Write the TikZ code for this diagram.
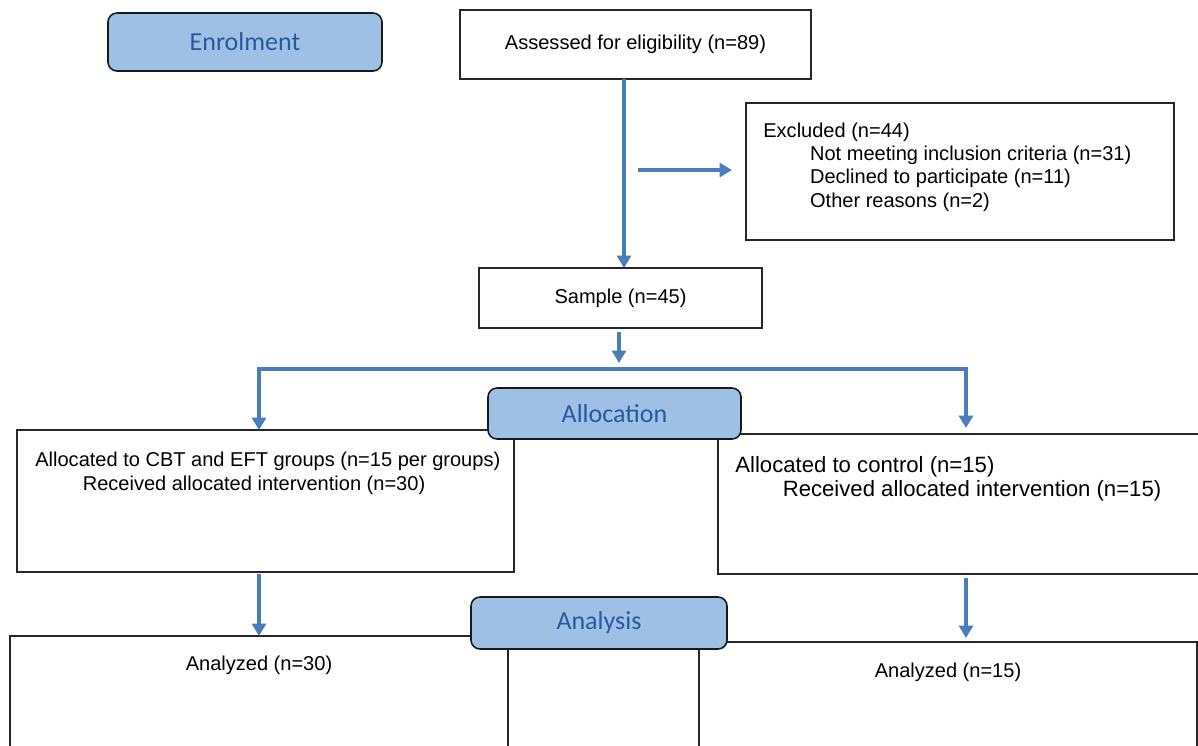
\documentclass[tikz,border=0pt]{standalone}
\usepackage{fontspec}
\setmainfont{Liberation Sans}
\newfontfamily\tabfont{Carlito}
\usetikzlibrary{arrows.meta,positioning,calc}
\definecolor{flowblue}{RGB}{74,126,187}
\definecolor{tabfill}{RGB}{157,192,228}
\definecolor{tabtext}{RGB}{44,88,158}

\begin{document}
\begin{tikzpicture}[
  x=0.2mm,y=-0.2mm,
  font=\fontsize{11.4}{13.1}\selectfont,
  box/.style={draw=black!85,line width=0.8pt,inner sep=0pt,outer sep=0pt},
  stage/.style={draw=black!90,line width=0.9pt,rounded corners=1.8mm,
    fill=tabfill,text=tabtext,inner sep=0pt,
    font=\tabfont\fontsize{14.8}{16}\selectfont},
  flow/.style={-{Triangle[length=2.5mm,width=2.8mm]},
    draw=flowblue,line width=2.2pt},
  bar/.style={draw=flowblue,line width=2.2pt,line cap=rect},
  entry/.style={inner sep=0pt,anchor=base west,align=left}]
\useasboundingbox (0,0) rectangle (1198,745);
\clip (0,0) rectangle (1198,745);

% boxes
\node[box,minimum width=70.2mm,minimum height=13.8mm] (assess) at (635.5,44.5) {Assessed for eligibility (n=89)};
\node[box,minimum width=85.6mm,minimum height=27.4mm] (excl) at (960,171.5) {};
\node[box,minimum width=56.6mm,minimum height=12mm] (sample) at (620.5,298) {Sample (n=45)};
\node[box,minimum width=99.4mm,minimum height=28.4mm] (leftalloc) at (265.5,501) {};
\node[box,minimum width=99.4mm,minimum height=28mm] (rightalloc) at (966.5,504) {};
\node[box,minimum width=99.6mm,minimum height=32.8mm] (leftana) at (259,718) {};
\node[box,minimum width=99.6mm,minimum height=31.6mm] (rightana) at (948,721) {};

% texts in the boxes (base = last line)
\node[entry] (excltext) at (763,207) {Excluded (n=44)\\
  \hspace*{26.6pt}Not meeting inclusion criteria (n=31)\\
  \hspace*{26.6pt}Declined to participate (n=11)\\
  \hspace*{26.6pt}Other reasons (n=2)};
\node[entry] (leftalloctext) at (35,490) {Allocated to CBT and EFT groups (n=15 per groups)\\
  \hspace*{27pt}Received allocated intervention (n=30)};
\node[entry,font=\fontsize{12.6}{13.6}\selectfont] (rightalloctext) at (735,496) {Allocated to control (n=15)\\
  \hspace*{27pt}Received allocated intervention (n=15)};
\node[entry,anchor=base] (leftanatext) at (259,670) {Analyzed (n=30)};
\node[entry,anchor=base] (rightanatext) at (948,677) {Analyzed (n=15)};

% stage tabs
\node[stage,minimum width=54.8mm,minimum height=11.6mm] (enrol) at (245,42) {Enrolment};
\node[stage,minimum width=50.6mm,minimum height=10.2mm] (alloc) at (614.5,413.5) {Allocation};
\node[stage,minimum width=51.2mm,minimum height=10.4mm] (analysis) at (599,623) {Analysis};

% arrows
\coordinate (exclfrom) at (638,170);
\coordinate (splitL) at (259,369);
\coordinate (splitM) at (619,369);
\coordinate (splitR) at (966,369);
\draw[flow] ([xshift=-2.3mm]assess.south) -- ([xshift=-2.3mm]assess.south |- sample.north);
\draw[flow,shorten >=2.8mm] (exclfrom) -- (exclfrom -| excl.west);
\draw[flow,shorten <=0.8mm,shorten >=1.2mm] (sample.south -| splitM) -- (splitM);
\draw[bar] (splitL) -- (splitR);
\draw[flow] (splitL) -- (splitL |- leftalloc.north);
\draw[flow,shorten >=1.2mm] (splitR) -- (splitR |- rightalloc.north);
\draw[flow,shorten <=0.4mm] (leftalloc.south -| splitL) -- (leftana.north -| splitL);
\draw[flow,shorten <=0.8mm,shorten >=0.8mm] (rightalloc.south -| splitR) -- (rightana.north -| splitR);
\end{tikzpicture}
\end{document}
